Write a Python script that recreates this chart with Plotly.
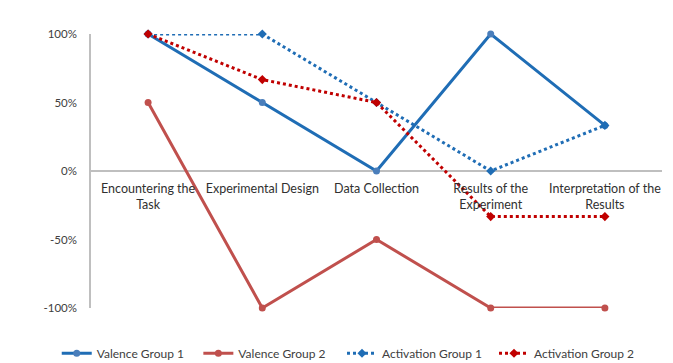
import plotly.graph_objects as go

categories = ["Encountering the<br>Task", "Experimental Design", "Data Collection",
              "Results of the<br>Experiment", "Interpretation of the<br>Results"]
valence_g1 = [1.0, 0.5, 0.0, 1.0, 0.333]
valence_g2 = [0.5, -1.0, -0.5, -1.0, -1.0]
activation_g1 = [1.0, 1.0, 0.5, 0.0, 0.333]
activation_g2 = [1.0, 0.667, 0.5, -0.333, -0.333]
y_tickvals = [1.0, 0.5, 0.0, -0.5, -1.0]
y_ticktext = ["100%", "50%", "0%", "-50%", "-100%"]

x = list(range(len(categories)))
fig = go.Figure()
fig.add_trace(go.Scatter(x=x, y=valence_g1, name="Valence Group 1", mode="lines+markers",
                         line=dict(color="#1F6DB5", width=3),
                         marker=dict(symbol="circle", size=7, color="#4A7EBB"),
                         cliponaxis=False, legend="legend"))
fig.add_trace(go.Scatter(x=x, y=valence_g2, name="Valence Group 2", mode="lines+markers",
                         line=dict(color="#C0504D", width=3),
                         marker=dict(symbol="circle", size=7, color="#C0504D"),
                         cliponaxis=False, legend="legend2"))
fig.add_trace(go.Scatter(x=x, y=activation_g1, name="Activation Group 1", mode="lines+markers",
                         line=dict(color="#1F6DB5", width=3, dash="dot"),
                         marker=dict(symbol="diamond", size=7, color="#1F6DB5"),
                         cliponaxis=False, legend="legend3"))
fig.add_trace(go.Scatter(x=x, y=activation_g2, name="Activation Group 2", mode="lines+markers",
                         line=dict(color="#C00000", width=3, dash="dot"),
                         marker=dict(symbol="diamond", size=7, color="#C00000"),
                         cliponaxis=False, legend="legend4"))

leg_common = dict(orientation="h", xanchor="left", y=-0.165, yanchor="middle",
                  font=dict(size=12, color="#404040"), bgcolor="rgba(0,0,0,0)")

fig.update_layout(
    width=673, height=363,
    margin=dict(l=91, r=11, t=34, b=55, autoexpand=False),
    paper_bgcolor="white", plot_bgcolor="white",
    font=dict(family="Lato", size=11, color="#404040"),
    showlegend=True,
    legend=dict(x=-0.06, **leg_common),
    legend2=dict(x=0.188, **leg_common),
    legend3=dict(x=0.4396, **leg_common),
    legend4=dict(x=0.7058, **leg_common),
    xaxis=dict(range=[-0.5, 4.5], tickvals=x, ticktext=categories, showgrid=False,
               showline=False, zeroline=False, ticks="", anchor="free", position=0.5,
               ticklabelstandoff=8,
               tickfont=dict(size=12.5, color="#303030")),
    yaxis=dict(range=[-1, 1], tickvals=y_tickvals, ticktext=y_ticktext, showgrid=False,
               showline=True, linecolor="#BFBFBF", linewidth=1.5, zeroline=True,
               zerolinecolor="#BFBFBF", zerolinewidth=1.5, ticks="", ticklabelstandoff=10,
               tickfont=dict(size=11.5, color="#404040")),
)
fig.write_html("out.html")
